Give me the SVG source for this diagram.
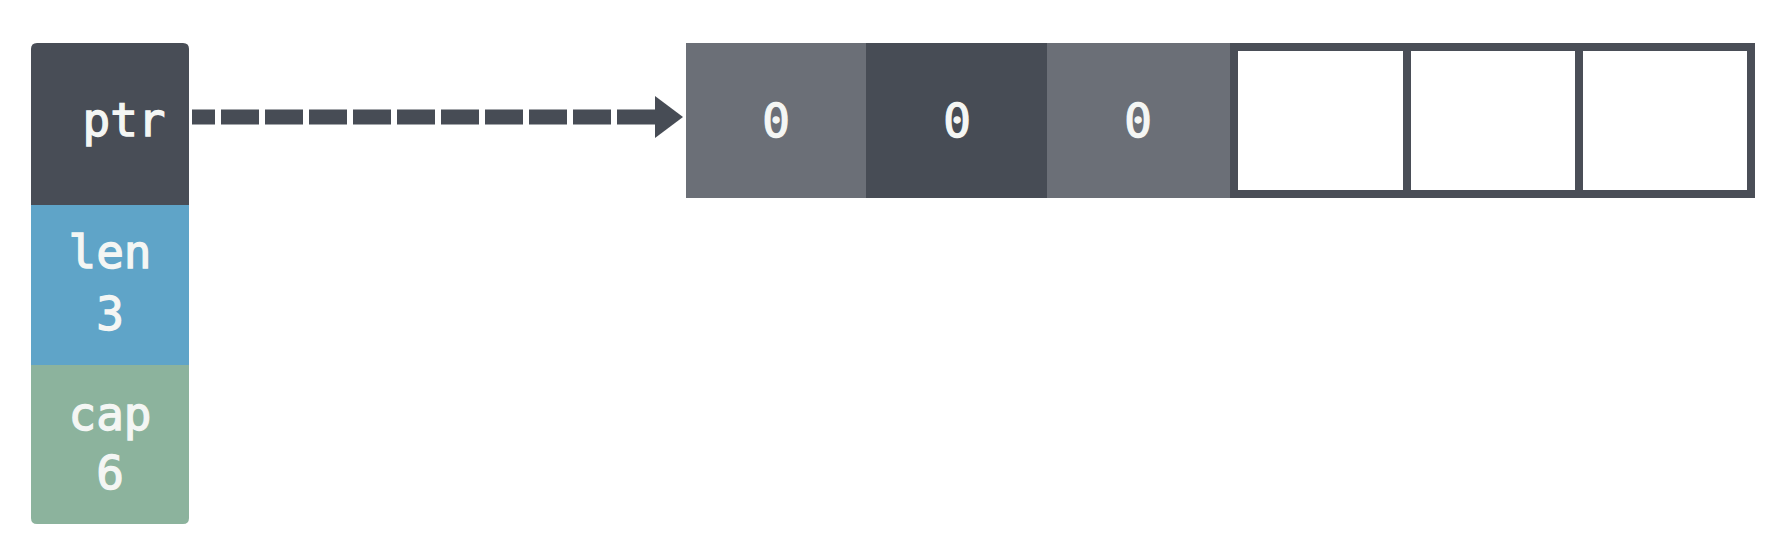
<svg xmlns="http://www.w3.org/2000/svg" width="1788" height="540" viewBox="0 0 1788 540">
<style>
.t{font-family:"DejaVu Sans Mono","Liberation Mono",monospace;font-size:46px;fill:#f4f6f4;stroke:#f4f6f4;stroke-width:1.3;text-anchor:middle}
.light{fill:#6b6f77}
.dark{fill:#474c55}
.empty{fill:#ffffff;stroke:#4a4e57;stroke-width:8}
</style>
<defs>
<marker id="ah" markerWidth="30" markerHeight="44" refX="0" refY="21" orient="auto" markerUnits="userSpaceOnUse">
<path d="M0,0 L28,21 L0,42 Z" fill="#474c55"/>
</marker>
</defs>
<rect width="1788" height="540" fill="#ffffff"/>
<g id="header">
<g id="ptr">
<path d="M31,49 Q31,43 37,43 L183,43 Q189,43 189,49 L189,205 L31,205 Z" fill="#484d56"/>
<text class="t" x="124" y="136">ptr</text>
</g>
<g id="len">
<rect x="31" y="205" width="158" height="160" fill="#5fa4c8"/>
<text class="t" x="110" y="268">len</text>
<text class="t" x="110" y="330">3</text>
</g>
<g id="cap">
<path d="M31,365 L189,365 L189,518 Q189,524 183,524 L37,524 Q31,524 31,518 Z" fill="#8cb39d"/>
<text class="t" x="110" y="430">cap</text>
<text class="t" x="110" y="489">6</text>
</g>
</g>
<g id="connectors">
<line x1="192" y1="117" x2="655" y2="117" stroke="#474c55" stroke-width="15" stroke-dasharray="38 6" stroke-dashoffset="15" marker-end="url(#ah)"/>
</g>
<g id="array">
<g id="cell0"><rect class="light" x="686" y="43" width="181" height="155"/><text class="t" x="776" y="137">0</text></g>
<g id="cell1"><rect class="dark" x="866" y="43" width="182" height="155"/><text class="t" x="957" y="137">0</text></g>
<g id="cell2"><rect class="light" x="1047" y="43" width="183" height="155"/><text class="t" x="1138" y="137">0</text></g>
<g id="cell3"><rect class="empty" x="1234" y="47" width="173" height="147"/></g>
<g id="cell4"><rect class="empty" x="1407" y="47" width="172" height="147"/></g>
<g id="cell5"><rect class="empty" x="1579" y="47" width="172" height="147"/></g>
</g>
</svg>
